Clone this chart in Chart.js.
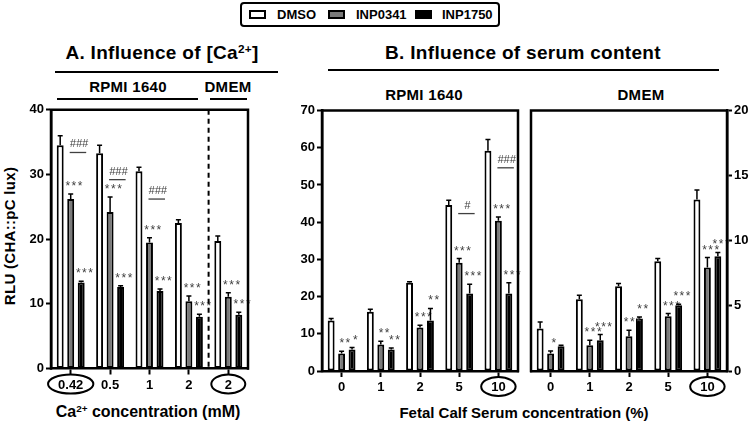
<!DOCTYPE html>
<html><head><meta charset="utf-8">
<script src="https://cdn.jsdelivr.net/npm/chart.js@4"></script>
<style>
body{margin:0;width:750px;height:424px;background:#fff;position:relative;overflow:hidden;font-family:"Liberation Sans",Arial,sans-serif;font-weight:bold;color:#000}
.c{position:absolute;transform:translate(-50%,-50%);white-space:nowrap;line-height:1}
.hl{position:absolute;height:2px;background:#000}
canvas{position:absolute}
sup{font-size:0.62em;vertical-align:0;position:relative;top:-0.55em}
#legend{position:absolute;left:240px;top:2px;width:256px;height:21px;border:2px solid #000;border-radius:4px}
.sw{position:absolute;top:6px;width:13px;height:5px;border:2px solid #000}
.lt{position:absolute;top:4px;font-size:13px;line-height:1}
</style></head><body>
<div id="legend">
  <span class="sw" style="left:7px;background:#fff"></span><span class="lt" style="left:35px">DMSO</span>
  <span class="sw" style="left:86px;background:#7a7a7a"></span><span class="lt" style="left:114px">INP0341</span>
  <span class="sw" style="left:173px;background:#000"></span><span class="lt" style="left:200px">INP1750</span>
</div>
<div class="c" style="left:162px;top:52px;font-size:19px;letter-spacing:0.3px">A. Influence of [Ca<sup>2+</sup>]</div>
<div class="hl" style="left:55px;top:71px;width:223px"></div>
<div class="c" style="left:128px;top:86px;font-size:15px;letter-spacing:0.3px">RPMI 1640</div>
<div class="c" style="left:228px;top:86px;font-size:15px;letter-spacing:0.3px">DMEM</div>
<div class="hl" style="left:57px;top:98px;width:141px"></div>
<div class="hl" style="left:210px;top:98px;width:37px"></div>
<div class="c" style="left:523px;top:52px;font-size:19px;letter-spacing:0.3px">B. Influence of serum content</div>
<div class="hl" style="left:328px;top:69px;width:391px"></div>
<div class="c" style="left:424px;top:94px;font-size:15px;letter-spacing:0.3px">RPMI 1640</div>
<div class="c" style="left:641px;top:94px;font-size:15px;letter-spacing:0.3px">DMEM</div>
<div class="c" style="left:9px;top:236px;font-size:15px;letter-spacing:0.3px;transform:translate(-50%,-50%) rotate(-90deg)">RLU (CHA::pC lux)</div>
<div class="c" style="left:148px;top:412px;font-size:16px">Ca<sup>2+</sup> concentration (mM)</div>
<div class="c" style="left:524px;top:412px;font-size:15px">Fetal Calf Serum concentration (%)</div>

<canvas id="cA" width="260" height="300" style="left:0;top:100px"></canvas>
<canvas id="cB1" width="250" height="300" style="left:280px;top:100px"></canvas>
<canvas id="cB2" width="225" height="300" style="left:525px;top:100px"></canvas>

<script>
// ---------- Panel A: influence of [Ca2+] ----------
const categoriesA = ['0.42', '0.5', '1', '2', '2'];
const dmsoA       = [34.5, 33.3, 30.5, 22.5, 19.7];
const dmsoErrA    = [1.5, 1.2, 0.6, 0.5, 0.8];
const inp0341A    = [26.2, 24.2, 19.5, 10.4, 11.1];
const inp0341ErrA = [0.8, 2.3, 0.7, 0.8, 0.6];
const inp1750A    = [13.3, 12.6, 12.0, 8.0, 8.3];
const inp1750ErrA = [0.2, 0.2, 0.3, 0.4, 0.4];
const sig0341A    = ['***', '***', '***', '***', '***'];
const sig1750A    = ['***', '***', '***', '***', '***'];
const hashA       = ['###', '###', '###', '', ''];
const hashLevelA  = [33.4, 29.2, 26.2, null, null];
const circledA    = [0, 4];
const yTicksA     = {min: 0, max: 40, step: 10};

// ---------- Panel B: serum content, RPMI 1640 ----------
const categoriesB  = ['0', '1', '2', '5', '10'];
const dmsoB1       = [13.6, 15.9, 23.7, 44.6, 59.2];
const dmsoErrB1    = [0.5, 0.7, 0.3, 1.3, 3.0];
const inp0341B1    = [4.7, 7.1, 11.7, 29.1, 40.4];
const inp0341ErrB1 = [0.6, 0.9, 0.6, 1.1, 1.0];
const inp1750B1    = [5.8, 5.8, 13.6, 20.8, 20.8];
const inp1750ErrB1 = [0.5, 0.4, 3.2, 2.5, 2.9];
const sig0341B1    = ['**', '**', '***', '***', '***'];
const sig1750B1    = ['*', '**', '**', '***', '***'];
const hashB1       = ['', '', '', '#', '###'];
const hashLevelB1  = [null, null, null, 42.3, 54.6];
const yTicksB1     = {min: 0, max: 70, step: 10};

// ---------- Panel B: serum content, DMEM ----------
const dmsoB2       = [3.26, 5.51, 6.51, 8.43, 13.17];
const dmsoErrB2    = [0.51, 0.31, 0.21, 0.21, 0.72];
const inp0341B2    = [1.34, 1.98, 2.67, 4.2, 7.95];
const inp0341ErrB2 = [0.2, 0.38, 0.46, 0.21, 0.76];
const inp1750B2    = [1.9, 2.36, 4.03, 5.05, 8.81];
const inp1750ErrB2 = [0.08, 0.44, 0.12, 0.08, 0.29];
const sig0341B2    = ['*', '***', '***', '***', '***'];
const sig1750B2    = ['', '***', '**', '***', '***'];
const hashB2       = ['', '', '', '', ''];
const hashLevelB2  = [null, null, null, null, null];
const circledB     = [4];
const yTicksB2     = {min: 0, max: 20, step: 5};

const FONT = '"Liberation Sans", Arial, sans-serif';
const GREY = '#7a7a7a';
const NOTE = '#404040';

const extras = {
  id: 'extras',
  afterDatasetsDraw(chart) {
    const o = chart.options.plugins.extras;
    const ctx = chart.ctx, ys = chart.scales.y, xs = chart.scales.x, ca = chart.chartArea;
    ctx.save();
    // error bars + significance stars
    chart.data.datasets.forEach((ds, di) => {
      const meta = chart.getDatasetMeta(di);
      meta.data.forEach((el, i) => {
        const yt = ys.getPixelForValue(ds.data[i] + ds.err[i]);
        ctx.strokeStyle = '#000'; ctx.lineWidth = 1.5;
        ctx.beginPath();
        ctx.moveTo(el.x, el.y); ctx.lineTo(el.x, yt);
        ctx.moveTo(el.x - 2.5, yt); ctx.lineTo(el.x + 2.5, yt);
        ctx.stroke();
        if (ds.sig && ds.sig[i]) {
          ctx.fillStyle = NOTE; ctx.font = '12px ' + FONT;
          ctx.letterSpacing = '1.5px';
          ctx.textAlign = 'center'; ctx.textBaseline = 'alphabetic';
          ctx.fillText(ds.sig[i], el.x + 4, yt - 4);
          ctx.letterSpacing = '0px';
        }
      });
    });
    // hash comparisons between INP0341 and INP1750
    const m1 = chart.getDatasetMeta(1).data, m2 = chart.getDatasetMeta(2).data;
    o.hash.forEach((h, i) => {
      if (!h) return;
      const ly = ys.getPixelForValue(o.hashLevel[i]);
      const x1 = m1[i].x - 1, x2 = m2[i].x + 5;
      ctx.strokeStyle = NOTE; ctx.lineWidth = 1.3;
      ctx.beginPath(); ctx.moveTo(x1, ly); ctx.lineTo(x2, ly); ctx.stroke();
      ctx.fillStyle = NOTE; ctx.font = 'italic 11px ' + FONT;
      ctx.textAlign = 'center'; ctx.textBaseline = 'alphabetic';
      ctx.fillText(h, (x1 + x2) / 2 + 1, ly - 5);
    });
    // frame
    ctx.strokeStyle = '#000'; ctx.lineWidth = 2.5; ctx.lineCap = 'square';
    ctx.beginPath();
    ctx.moveTo(ca.left, ca.top); ctx.lineTo(ca.right, ca.top);
    ctx.moveTo(ca.right, ca.top); ctx.lineTo(ca.right, ca.bottom);
    ctx.moveTo(ca.left, ca.top); ctx.lineTo(ca.left, ca.bottom);
    ctx.stroke();
    ctx.lineCap = 'butt';
    // dashed separator
    if (o.dashAfter != null) {
      const xd = (xs.getPixelForValue(o.dashAfter) + xs.getPixelForValue(o.dashAfter + 1)) / 2;
      ctx.setLineDash([5, 4]); ctx.lineWidth = 2;
      ctx.beginPath(); ctx.moveTo(xd, ca.top); ctx.lineTo(xd, ca.bottom); ctx.stroke();
      ctx.setLineDash([]);
    }
    // circled tick labels
    ctx.font = 'bold 13px ' + FONT; ctx.lineWidth = 2;
    o.circled.forEach(i => {
      const cx = xs.getPixelForValue(i);
      const cy = xs.top + 15.5;
      const tw = ctx.measureText(chart.data.labels[i]).width;
      const rx = Math.max(tw / 2 + 10, 17);
      ctx.beginPath(); ctx.ellipse(cx, cy, rx, 9.5, 0, 0, Math.PI * 2); ctx.stroke();
    });
    ctx.restore();
  }
};

function makeChart(id, labels, series, errs, sigs, yt, opt) {
  const ds = [
    {label: 'DMSO', data: series[0], err: errs[0], sig: null, backgroundColor: '#fff'},
    {label: 'INP0341', data: series[1], err: errs[1], sig: sigs[0], backgroundColor: GREY},
    {label: 'INP1750', data: series[2], err: errs[2], sig: sigs[1], backgroundColor: '#000'}
  ].map(d => Object.assign(d, {borderColor: '#000', borderWidth: 2, borderSkipped: false,
      categoryPercentage: 0.8, barPercentage: 0.66}));
  const tickFont = {family: FONT, size: 13, weight: 'bold'};
  return new Chart(document.getElementById(id), {
    type: 'bar',
    data: {labels, datasets: ds},
    plugins: [extras],
    options: {
      responsive: false, animation: false, devicePixelRatio: 1,
      layout: {padding: opt.padding},
      plugins: {legend: {display: false}, tooltip: {enabled: false},
        extras: {hash: opt.hash, hashLevel: opt.hashLevel, circled: opt.circled, dashAfter: opt.dashAfter}},
      scales: {
        x: {
          grid: {display: true, drawOnChartArea: false, offset: false, tickLength: 6, tickWidth: 2, tickColor: '#000'},
          border: {display: true, color: '#000', width: 2.5},
          ticks: {color: '#000', font: tickFont, padding: 3, maxRotation: 0, autoSkip: false},
          afterFit(s) { s.height = opt.xh; }
        },
        y: {
          position: opt.ypos, min: yt.min, max: yt.max,
          grid: {display: true, drawOnChartArea: false, tickLength: 5, tickWidth: 2, tickColor: '#000'},
          border: {display: true, color: '#000', width: 2.5},
          ticks: {stepSize: yt.step, color: '#000', font: tickFont, padding: 2},
          afterFit(s) { s.width = opt.yw; }
        }
      }
    }
  });
}

makeChart('cA', categoriesA, [dmsoA, inp0341A, inp1750A], [dmsoErrA, inp0341ErrA, inp1750ErrA],
  [sig0341A, sig1750A], yTicksA,
  {padding: {left: 0, right: 12, top: 8, bottom: 0}, xh: 31.5, yw: 51, ypos: 'left',
   hash: hashA, hashLevel: hashLevelA, circled: circledA, dashAfter: 3});

makeChart('cB1', categoriesB, [dmsoB1, inp0341B1, inp1750B1], [dmsoErrB1, inp0341ErrB1, inp1750ErrB1],
  [sig0341B1, sig1750B1], yTicksB1,
  {padding: {left: 0, right: 12, top: 10.5, bottom: 0}, xh: 29, yw: 42, ypos: 'left',
   hash: hashB1, hashLevel: hashLevelB1, circled: circledB, dashAfter: null});

makeChart('cB2', categoriesB, [dmsoB2, inp0341B2, inp1750B2], [dmsoErrB2, inp0341ErrB2, inp1750ErrB2],
  [sig0341B2, sig1750B2], yTicksB2,
  {padding: {left: 6, right: 0, top: 10.5, bottom: 0}, xh: 29, yw: 23, ypos: 'right',
   hash: hashB2, hashLevel: hashLevelB2, circled: circledB, dashAfter: null});
</script>
</body></html>
